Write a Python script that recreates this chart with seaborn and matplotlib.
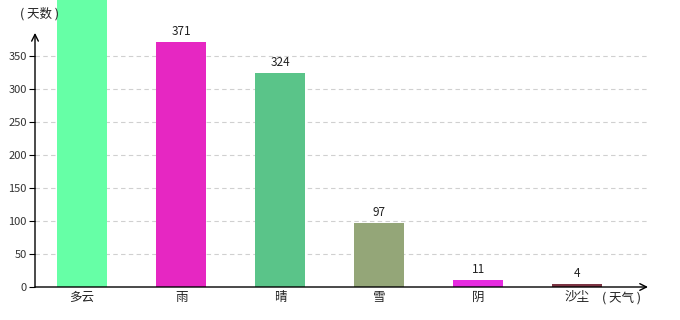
import matplotlib
matplotlib.use("Agg")
import matplotlib.pyplot as plt
import seaborn as sns
import pandas as pd

categories = ["多云", "雨", "晴", "雪", "阴", "沙尘"]
days = [560, 371, 324, 97, 11, 4]
colors = ["#66FFA6", "#E627C2", "#5AC489", "#94A678", "#E62BE0", "#7D3443"]
yticks = [0, 50, 100, 150, 200, 250, 300, 350]

sns.set_theme(style="white")
plt.rcParams['font.family'] = ['Noto Sans CJK SC', 'DejaVu Sans']

df = pd.DataFrame({"天气": categories, "天数": days})

fig = plt.figure(figsize=(6.8, 3.2), dpi=100)
ax = fig.add_axes([35/680, 33/320, (648-35)/680, 287/320])

sns.barplot(data=df, x="天气", y="天数", hue="天气", palette=colors,
            width=0.5, legend=False, ax=ax, saturation=1, linewidth=0)

ax.set_xlim(-0.475, 5.715)
ax.set_ylim(0, 287/33*50)
for s in ax.spines.values():
    s.set_visible(False)

for v in yticks[1:]:
    ax.axhline(v, color="#d0d0d0", lw=0.8, ls=(0, (4, 3)), zorder=0)

ax.set_yticks(yticks)
ax.set_yticklabels([str(v) for v in yticks], fontsize=8, color="#333333")
ax.tick_params(axis="y", length=4, width=0.8, pad=2, left=True, color="black")
ax.tick_params(axis="x", length=0, pad=3, labelsize=9, labelcolor="#222222")
ax.set_xlabel("")
ax.set_ylabel("")

# axis arrows
ax.annotate("", xy=(0, 385), xytext=(0, 0), xycoords=("axes fraction", "data"),
            textcoords=("axes fraction", "data"),
            arrowprops=dict(arrowstyle="->", lw=1, color="black", shrinkA=0, shrinkB=0))
ax.annotate("", xy=(1.0, 0), xytext=(0, 0), xycoords=("axes fraction", "data"),
            textcoords=("axes fraction", "data"),
            arrowprops=dict(arrowstyle="->", lw=1, color="black", shrinkA=0, shrinkB=0))

for cont in ax.containers:
    ax.bar_label(cont, fmt="%d", padding=3, fontsize=8.5, color="#222222")

fig.text(20/680, 1 - 14/320, "( 天数 )", fontsize=9, va="center", ha="left", color="#222222")
fig.text(602/680, 1 - 298/320, "( 天气 )", fontsize=9, va="center", ha="left", color="#222222")

fig.savefig("out.png", dpi=100)
